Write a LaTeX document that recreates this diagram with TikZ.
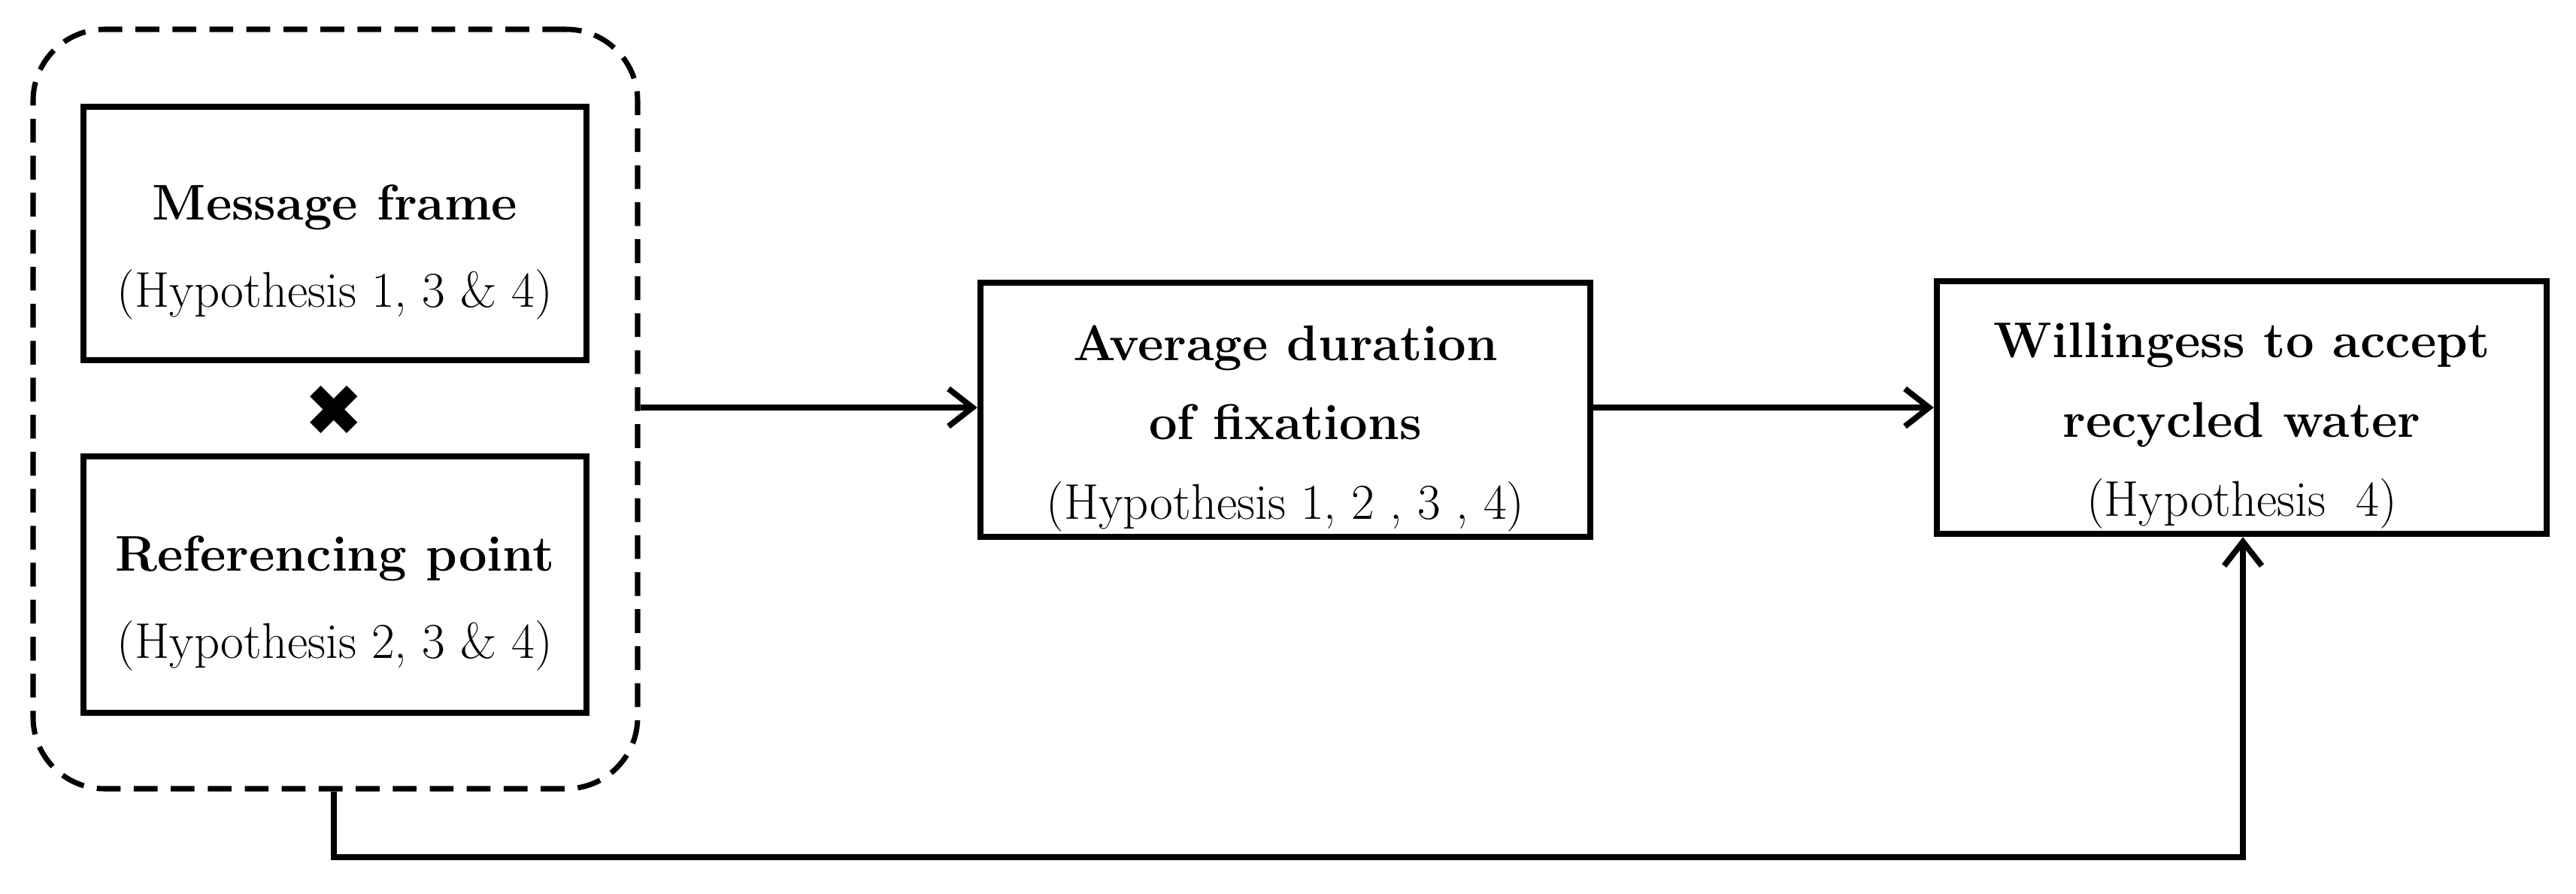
\documentclass[tikz,border=0pt]{standalone}
\usepackage{fontspec}
\newfontfamily\symfont{DejaVu Sans}
\usetikzlibrary{arrows.meta}
\begin{document}
\begin{tikzpicture}[
  box/.style={draw=black, line width=2.4pt, minimum width=#1, align=center, inner sep=0pt},
  lbl/.style={font=\fontsize{19}{33}\selectfont, align=center},
  lblt/.style={font=\fontsize{19}{30}\selectfont, align=center},
  conn/.style={line width=2.2pt, -{Straight Barb[length=0.32cm, width=0.5cm, line width=2.2pt]}},
  grp/.style={draw=black, line width=2pt, dash pattern=on 9pt off 5pt, rounded corners=0.95cm}
]
\useasboundingbox (0,0) rectangle (34.26,11.88);
% group
\node[grp, minimum width=8.04cm, minimum height=10.10cm] (grp) at (4.46,6.44) {};
% inner boxes
\node[box=6.69cm, minimum height=3.37cm] (mf) at (4.455,8.775) {};
\node[lbl, below=0pt] at ([yshift=0.77cm]mf.center) {\textbf{Message frame}\\(Hypothesis 1, 3 \& 4)};
\node[box=6.69cm, minimum height=3.41cm] (rp) at (4.455,4.105) {};
\node[lbl, below=0pt] at ([yshift=0.77cm]rp.center) {\textbf{Referencing point}\\(Hypothesis 2, 3 \& 4)};
\node[inner sep=0pt, font=\symfont\fontsize{27}{27}\selectfont] (x) at (4.44,6.42) {✖};
% middle and right
\node[box=8.11cm, minimum height=3.38cm] (avg) at (17.095,6.43) {};
\node[lblt, below=0pt] at ([yshift=1.25cm]avg.center) {\textbf{Average duration}\\\textbf{of fixations}\\(Hypothesis 1, 2 , 3 , 4)};
\node[box=8.11cm, minimum height=3.36cm] (wil) at (29.815,6.46) {};
\node[lblt, below=0pt] at ([yshift=1.25cm]wil.center) {\textbf{Willingess to accept}\\\textbf{recycled water}\\(Hypothesis\ \ 4)};
% connectors
\coordinate (c1) at (4.44,0.48);
\coordinate (c2) at (29.83,0.48);
\draw[conn] (grp.east |- 0,6.46) -- (avg.west |- 0,6.46);
\draw[conn] (avg.east |- 0,6.46) -- (wil.west |- 0,6.46);
\draw[conn] (grp.south -| c1) -- (c1) -- (c2) -- (wil.south -| c2);
\end{tikzpicture}
\end{document}
